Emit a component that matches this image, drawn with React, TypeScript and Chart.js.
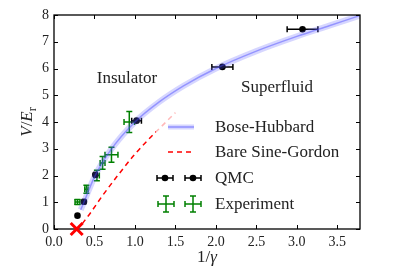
import React, { useEffect, useRef } from "react";
import { Chart, registerables } from "chart.js";

Chart.register(...registerables);

// Bose-Hubbard curve
const bhX = [0.33, 0.37, 0.5, 0.7, 1.0, 1.3, 1.6, 2.0, 2.5, 3.0, 3.4, 3.8];
const bhY = [0.72, 1.0, 1.95, 2.95, 4.0, 4.75, 5.35, 6.0, 6.65, 7.2, 7.6, 8.0];
// Bare Sine-Gordon curve
const sgX = [0.35, 0.45, 0.6, 0.8, 1.0, 1.2, 1.3, 1.5];
const sgY = [0.2, 0.6, 1.25, 2.05, 2.8, 3.45, 3.75, 4.35];
// QMC
const qmcX = [0.29, 0.37, 0.51, 1.02, 2.08, 3.07];
const qmcY = [0.5, 1.02, 2.03, 4.05, 6.06, 7.47];
const qmcXErr = [0.0, 0.02, 0.02, 0.06, 0.13, 0.19];
// Experiment
const expX = [0.29, 0.4, 0.53, 0.6, 0.71, 0.93];
const expY = [1.01, 1.49, 2.0, 2.47, 2.78, 4.0];
const expXErr = [0.03, 0.02, 0.03, 0.03, 0.08, 0.065];
const expYErr = [0.09, 0.15, 0.2, 0.24, 0.28, 0.39];
// Critical point marker
const critX = [0.28];
const critY = [0];

const xTicks = [0, 0.5, 1, 1.5, 2, 2.5, 3, 3.5];
const yTicks = [0, 1, 2, 3, 4, 5, 6, 7, 8];
const legendLabels = ["Bose-Hubbard", "Bare Sine-Gordon", "QMC", "Experiment"];

const SERIF = "'Liberation Serif', 'Times New Roman', serif";
const GREEN = "#008000";
const BAND = "rgba(90,90,255,0.25)";
const LINE = "rgba(60,60,255,0.45)";

function pts(xs: number[], ys: number[]) {
  return xs.map((x, i) => ({ x, y: ys[i] }));
}

function hbar(ctx: CanvasRenderingContext2D, x1: number, x2: number, y: number, cap: number) {
  ctx.beginPath();
  ctx.moveTo(x1, y);
  ctx.lineTo(x2, y);
  ctx.moveTo(x1, y - cap);
  ctx.lineTo(x1, y + cap);
  ctx.moveTo(x2, y - cap);
  ctx.lineTo(x2, y + cap);
  ctx.stroke();
}
function vbar(ctx: CanvasRenderingContext2D, x: number, y1: number, y2: number, cap: number) {
  ctx.beginPath();
  ctx.moveTo(x, y1);
  ctx.lineTo(x, y2);
  ctx.moveTo(x - cap, y1);
  ctx.lineTo(x + cap, y1);
  ctx.moveTo(x - cap, y2);
  ctx.lineTo(x + cap, y2);
  ctx.stroke();
}

const decoPlugin = {
  id: "deco",
  beforeDatasetDraw(chart: any, args: any) {
    const ctx = chart.ctx as CanvasRenderingContext2D;
    const xs = chart.scales.x;
    const ys = chart.scales.y;
    if (args.index === 3) {
      ctx.save();
      ctx.strokeStyle = "#000";
      ctx.lineWidth = 1.5;
      qmcX.forEach((x, i) => {
        if (qmcXErr[i] <= 0) return;
        const py = ys.getPixelForValue(qmcY[i]);
        hbar(ctx, xs.getPixelForValue(x - qmcXErr[i]), xs.getPixelForValue(x + qmcXErr[i]), py, 3);
      });
      ctx.restore();
    }
    if (args.index === 4) {
      ctx.save();
      ctx.strokeStyle = GREEN;
      ctx.lineWidth = 1.5;
      expX.forEach((x, i) => {
        const px = xs.getPixelForValue(x);
        const py = ys.getPixelForValue(expY[i]);
        hbar(ctx, xs.getPixelForValue(x - expXErr[i]), xs.getPixelForValue(x + expXErr[i]), py, 3);
        vbar(ctx, px, ys.getPixelForValue(expY[i] + expYErr[i]), ys.getPixelForValue(expY[i] - expYErr[i]), 3);
      });
      ctx.restore();
    }
  },
  afterDatasetsDraw(chart: any) {
    const ctx = chart.ctx as CanvasRenderingContext2D;
    const a = chart.chartArea;
    const xs = chart.scales.x;
    const ys = chart.scales.y;
    ctx.save();
    // legend box (semi-transparent)
    const lx = 156, ly = 112, lw = 192, lh = 104;
    ctx.fillStyle = "rgba(255,255,255,0.72)";
    ctx.fillRect(lx, ly, lw, lh);
    const rows = [127, 152, 178, 204];
    const textX = 215;
    // Bose-Hubbard sample
    ctx.lineCap = "butt";
    ctx.strokeStyle = BAND;
    ctx.lineWidth = 5;
    ctx.beginPath(); ctx.moveTo(168, rows[0]); ctx.lineTo(194, rows[0]); ctx.stroke();
    ctx.strokeStyle = LINE;
    ctx.lineWidth = 1.5;
    ctx.beginPath(); ctx.moveTo(168, rows[0]); ctx.lineTo(194, rows[0]); ctx.stroke();
    // Sine-Gordon sample
    ctx.strokeStyle = "#ff0000";
    ctx.setLineDash([5, 4]);
    ctx.beginPath(); ctx.moveTo(168, rows[1]); ctx.lineTo(194, rows[1]); ctx.stroke();
    ctx.setLineDash([]);
    // QMC sample
    ctx.strokeStyle = "#000";
    ctx.fillStyle = "#000";
    [165, 193].forEach((cx) => {
      hbar(ctx, cx - 8, cx + 8, rows[2], 3);
      ctx.beginPath(); ctx.arc(cx, rows[2], 3.3, 0, Math.PI * 2); ctx.fill();
    });
    // Experiment sample
    ctx.strokeStyle = GREEN;
    [166, 193].forEach((cx) => {
      hbar(ctx, cx - 8, cx + 8, rows[3], 3);
      vbar(ctx, cx, rows[3] - 8, rows[3] + 8, 3);
    });
    // legend text
    ctx.fillStyle = "#222";
    ctx.font = `17px ${SERIF}`;
    ctx.textAlign = "left";
    ctx.textBaseline = "middle";
    legendLabels.forEach((t, i) => ctx.fillText(t, textX, rows[i] + 1));

    // region labels
    ctx.textAlign = "center";
    ctx.fillText("Insulator", 127, 79);
    ctx.fillText("Superfluid", 277, 88);

    // frame
    ctx.strokeStyle = "#000";
    ctx.lineWidth = 1.3;
    ctx.strokeRect(a.left, a.top, a.right - a.left, a.bottom - a.top);
    // inward ticks
    ctx.lineWidth = 1;
    const tl = 4;
    xTicks.forEach((v) => {
      const px = Math.round(xs.getPixelForValue(v)) + 0.5;
      ctx.beginPath();
      ctx.moveTo(px, a.bottom); ctx.lineTo(px, a.bottom - tl);
      ctx.moveTo(px, a.top); ctx.lineTo(px, a.top + tl);
      ctx.stroke();
    });
    yTicks.forEach((v) => {
      const py = Math.round(ys.getPixelForValue(v)) + 0.5;
      ctx.beginPath();
      ctx.moveTo(a.left, py); ctx.lineTo(a.left + tl, py);
      ctx.moveTo(a.right, py); ctx.lineTo(a.right - tl, py);
      ctx.stroke();
    });

    // critical point X (drawn above the frame)
    ctx.strokeStyle = "#ff0000";
    ctx.lineWidth = 3;
    const cx = xs.getPixelForValue(critX[0]);
    const cy = ys.getPixelForValue(critY[0]);
    const r = 6;
    ctx.beginPath();
    ctx.moveTo(cx - r, cy - r); ctx.lineTo(cx + r, cy + r);
    ctx.moveTo(cx - r, cy + r); ctx.lineTo(cx + r, cy - r);
    ctx.stroke();

    // axis titles
    ctx.fillStyle = "#222";
    ctx.textBaseline = "alphabetic";
    ctx.textAlign = "left";
    const roman = `17px ${SERIF}`;
    const ital = `italic 17px ${SERIF}`;
    ctx.font = roman;
    const w1 = ctx.measureText("1/").width;
    ctx.font = ital;
    const w2 = ctx.measureText("γ").width;
    const sx = 207 - (w1 + w2) / 2;
    ctx.font = roman;
    ctx.fillText("1/", sx, 262);
    ctx.font = ital;
    ctx.fillText("γ", sx + w1, 262);

    // y title: V/E_r rotated
    ctx.save();
    ctx.translate(32, 122);
    ctx.rotate(-Math.PI / 2);
    ctx.font = ital;
    const wV = ctx.measureText("V").width;
    ctx.font = roman;
    const wS = ctx.measureText("/").width;
    ctx.font = ital;
    const wE = ctx.measureText("E").width;
    ctx.font = `12px ${SERIF}`;
    const wr = ctx.measureText("r").width;
    const total = wV + wS + wE + wr;
    let p = -total / 2;
    ctx.font = ital; ctx.fillText("V", p, 0); p += wV;
    ctx.font = roman; ctx.fillText("/", p, 0); p += wS;
    ctx.font = ital; ctx.fillText("E", p, 0); p += wE;
    ctx.font = `12px ${SERIF}`; ctx.fillText("r", p, 4);
    ctx.restore();

    ctx.restore();
  },
};

export default function App() {
  const ref = useRef<HTMLCanvasElement | null>(null);
  useEffect(() => {
    if (!ref.current) return;
    const chart = new Chart(ref.current, {
      type: "scatter",
      data: {
        datasets: [
          {
            type: "line",
            data: pts(bhX, bhY),
            borderColor: BAND,
            borderWidth: 6,
            pointRadius: 0,
            cubicInterpolationMode: "monotone",
            fill: false,
          } as any,
          {
            type: "line",
            data: pts(bhX, bhY),
            borderColor: LINE,
            borderWidth: 1.5,
            pointRadius: 0,
            cubicInterpolationMode: "monotone",
            fill: false,
          } as any,
          {
            type: "line",
            data: pts(sgX, sgY),
            borderColor: "#ff0000",
            borderWidth: 1.5,
            borderDash: [5, 4],
            pointRadius: 0,
            cubicInterpolationMode: "monotone",
            fill: false,
          } as any,
          {
            data: pts(qmcX, qmcY),
            backgroundColor: "#000",
            borderColor: "#000",
            pointRadius: 3.3,
            borderWidth: 0,
          },
          {
            data: pts(expX, expY),
            backgroundColor: "rgba(0,0,0,0)",
            borderColor: "rgba(0,0,0,0)",
            pointRadius: 0,
          },
        ],
      },
      options: {
        animation: false,
        responsive: false,
        events: [],
        layout: { padding: { left: 0, top: 15, right: 55, bottom: 0 }, autoPadding: false } as any,
        plugins: { legend: { display: false }, tooltip: { enabled: false } },
        scales: {
          x: {
            type: "linear",
            min: 0,
            max: 3.78,
            grid: { display: false, drawTicks: false },
            border: { display: false },
            afterFit: (s: any) => { s.height = 48; },
            afterBuildTicks: (s: any) => { s.ticks = xTicks.map((v) => ({ value: v })); },
            ticks: {
              padding: 5,
              color: "#222",
              font: { family: SERIF, size: 14 },
              callback: (v: any) => Number(v).toFixed(1),
            },
          },
          y: {
            type: "linear",
            min: 0,
            max: 8,
            grid: { display: false, drawTicks: false },
            border: { display: false },
            afterFit: (s: any) => { s.width = 54; },
            afterBuildTicks: (s: any) => { s.ticks = yTicks.map((v) => ({ value: v })); },
            ticks: {
              padding: 5,
              color: "#222",
              font: { family: SERIF, size: 14 },
              callback: (v: any) => String(v),
            },
          },
        },
      },
      plugins: [decoPlugin],
    });
    return () => chart.destroy();
  }, []);
  return (
    <canvas
      ref={ref}
      width={415}
      height={277}
      style={{ position: "absolute", left: 0, top: 0, width: 415, height: 277 }}
    />
  );
}
